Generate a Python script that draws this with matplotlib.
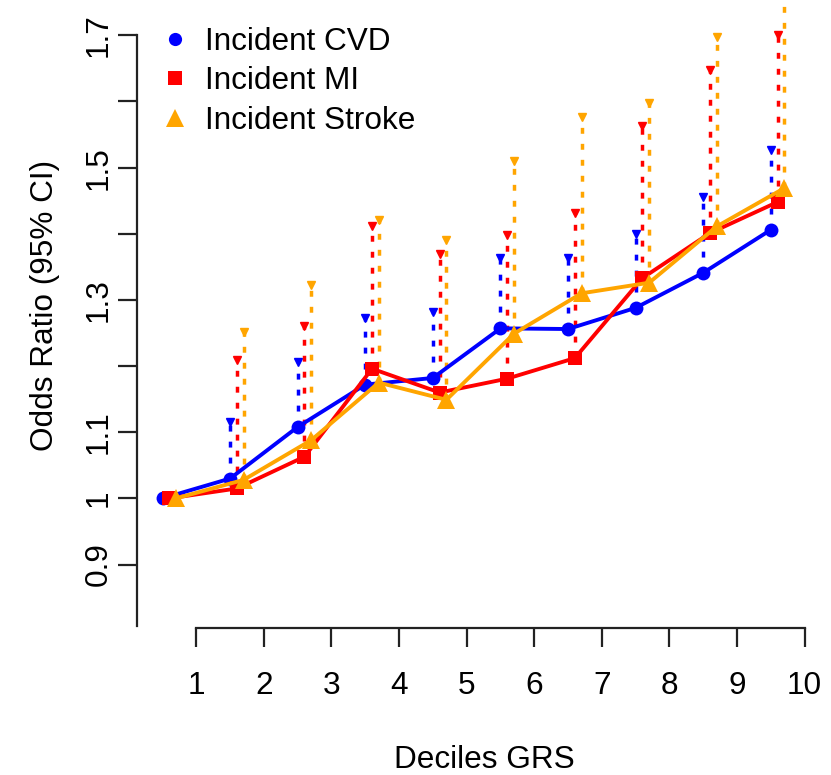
import matplotlib
matplotlib.use("Agg")
import matplotlib.pyplot as plt
from matplotlib.lines import Line2D

plt.rcParams['font.family'] = ['Liberation Sans', 'DejaVu Sans']

# ---------------- data ----------------
deciles = [1, 2, 3, 4, 5, 6, 7, 8, 9, 10]
series_names = ["Incident CVD", "Incident MI", "Incident Stroke"]

cvd_or = [1.0, 1.030, 1.108, 1.172, 1.182, 1.257, 1.256, 1.288, 1.341, 1.406]
cvd_up = [1.0, 1.116, 1.206, 1.272, 1.281, 1.364, 1.363, 1.400, 1.455, 1.526]

mi_or = [1.0, 1.015, 1.063, 1.196, 1.160, 1.181, 1.212, 1.333, 1.401, 1.448]
mi_up = [1.0, 1.209, 1.261, 1.411, 1.369, 1.398, 1.431, 1.563, 1.647, 1.700]

st_or = [1.0, 1.028, 1.088, 1.175, 1.149, 1.249, 1.310, 1.326, 1.411, 1.469]
st_up = [1.0, 1.252, 1.323, 1.421, 1.391, 1.510, 1.577, 1.598, 1.698, 1.780]

ytick_vals = [0.9, 1.0, 1.1, 1.2, 1.3, 1.4, 1.5, 1.6, 1.7]
ytick_labels = ["0.9", "1", "1.1", "", "1.3", "", "1.5", "", "1.7"]
xtick_labels = [str(d) for d in deciles]

# ---------------- style ----------------
colors = ["#0000ff", "#ff0000", "#ffa500"]
markers = ["o", "s", "^"]
msizes = [10, 10, 13]
offsets = [-0.5, -0.4, -0.3]
FS = 22.7

W, H = 831, 775
fig = plt.figure(figsize=(W / 100, H / 100), dpi=100)
ax = fig.add_axes([137 / W, 1 - 628 / H, (W - 137) / W, 628 / H])
ax.set_xlim(0.1225, 10.39)
ax.set_ylim(0.8041, 1.7533)

ors = [cvd_or, mi_or, st_or]
ups = [cvd_up, mi_up, st_up]

# error bars (upper CI only, dotted)
for k in range(3):
    for d, o, u in zip(deciles, ors[k], ups[k]):
        if u > o:
            x = d + offsets[k]
            ax.plot([x, x], [o, u], color=colors[k], lw=2.5,
                    linestyle=(0, (1.7, 2.9)), dash_capstyle='butt',
                    zorder=1)
            ax.plot([x], [u], marker='v', color=colors[k], markersize=5.5,
                    linestyle='none', zorder=1)

# lines + points
for k in range(3):
    xs = [d + offsets[k] for d in deciles]
    ax.plot(xs, ors[k], color=colors[k], lw=2.8, marker=markers[k],
            markersize=msizes[k], markeredgewidth=0, zorder=2 + k)

# axes styling
for s in ["top", "right"]:
    ax.spines[s].set_visible(False)
ax.spines["left"].set_bounds(0.807, 1.7)
ax.spines["bottom"].set_bounds(1, 10)
for s in ["left", "bottom"]:
    ax.spines[s].set_linewidth(1.6)
    ax.spines[s].set_color("#222222")

ax.set_xticks(deciles)
ax.set_xticklabels(xtick_labels)
ax.set_yticks(ytick_vals)
ax.set_yticklabels(ytick_labels)
ax.tick_params(axis="x", length=14, width=1.6, color="#222222",
               labelsize=FS, pad=17)
ax.tick_params(axis="y", length=14, width=1.6, color="#222222",
               labelsize=FS, pad=3, labelrotation=90)
for lab in ax.get_yticklabels():
    lab.set_verticalalignment("center")

fig.text(45 / W, 1 - 305 / H, "Odds Ratio (95% CI)", rotation=90,
         ha="center", va="center", fontsize=FS)
fig.text(484 / W, 1 - 760 / H, "Deciles GRS", ha="center", va="center",
         fontsize=FS)

handles = [Line2D([], [], color=colors[k], marker=markers[k],
                  markersize=msizes[k] * 0.95, linestyle="none",
                  markeredgewidth=0) for k in range(3)]
ax.legend(handles, series_names, loc="upper left",
          bbox_to_anchor=(159 / W, 1 - 27 / H), bbox_transform=fig.transFigure,
          frameon=False, fontsize=FS, borderpad=0, borderaxespad=0,
          handlelength=1.0, handletextpad=0.45, labelspacing=0.30)

fig.savefig("out.png", dpi=100)
